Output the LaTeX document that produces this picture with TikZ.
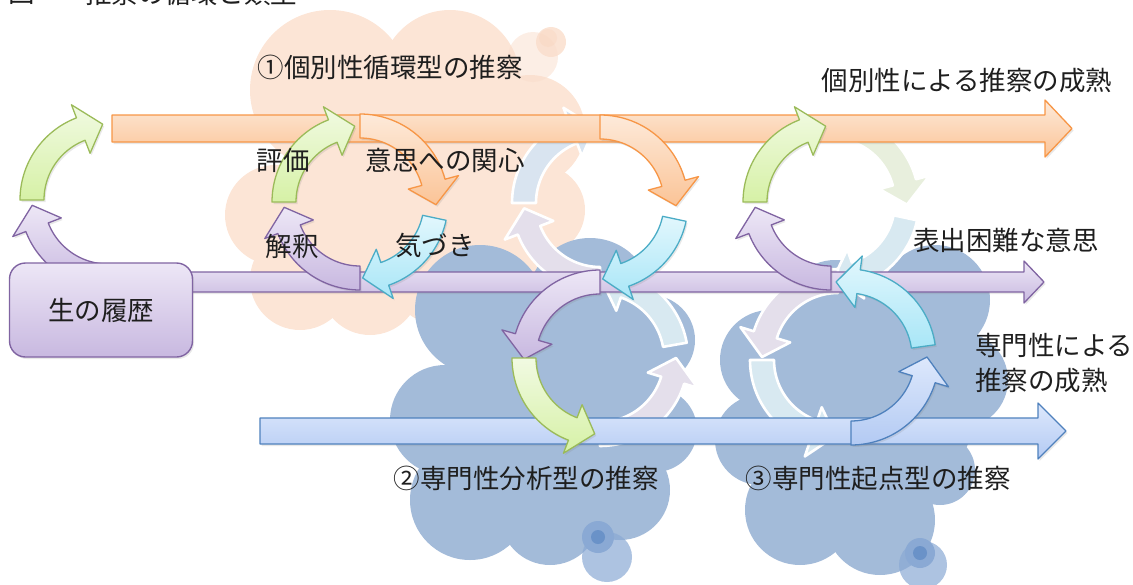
\documentclass[tikz,border=0pt]{standalone}
\usepackage{fontspec}
\setmainfont{Noto Sans CJK JP}
\usetikzlibrary{shadows}
\definecolor{peach}{HTML}{FCE5D6}
\definecolor{peachB}{HTML}{FADDCB}
\definecolor{peachC}{HTML}{F9D5BF}
\definecolor{cloudblue}{HTML}{A3BBD9}
\definecolor{bubA}{HTML}{8AA9D4}
\definecolor{bubB}{HTML}{6A92C8}
\definecolor{orgB}{HTML}{F79646}
\definecolor{orgL}{HTML}{FDEADA}
\definecolor{orgD}{HTML}{FBC497}
\definecolor{grnB}{HTML}{9BBB59}
\definecolor{grnL}{HTML}{F1FAE2}
\definecolor{grnD}{HTML}{D6F1A6}
\definecolor{cyaB}{HTML}{4BACC6}
\definecolor{cyaL}{HTML}{E2F7FD}
\definecolor{cyaD}{HTML}{A8E6F7}
\definecolor{purB}{HTML}{8064A2}
\definecolor{purL}{HTML}{EDE7F6}
\definecolor{purD}{HTML}{C8B8E0}
\definecolor{bluB}{HTML}{4F81BD}
\definecolor{bluL}{HTML}{DDE8FC}
\definecolor{bluD}{HTML}{B3CAF3}
\definecolor{fdBlue}{HTML}{D9E4F0}
\definecolor{fdLav}{HTML}{E4DFEB}
\definecolor{fdGreen}{HTML}{E8EFDD}
\definecolor{fdCyan}{HTML}{D8E9F1}
\definecolor{txt}{HTML}{1E1E1E}
\newcommand{\arcarr}[5]{%
  \pgfmathsetmacro{\hbang}{#4-17*sign(#4-#3)}%
  \path[#5] plot[domain=#3:\hbang, samples=30, variable=\t] ({#1+88*cos(\t)},{#2+88*sin(\t)})
   -- ({#1+102*cos(\hbang)},{#2+102*sin(\hbang)})
   -- ({#1+76*cos(#4)},{#2+76*sin(#4)})
   -- ({#1+50*cos(\hbang)},{#2+50*sin(\hbang)})
   -- plot[domain=\hbang:#3, samples=30, variable=\t] ({#1+64*cos(\t)},{#2+64*sin(\t)})
   -- cycle;}
\begin{document}
\begin{tikzpicture}[x=1pt,y=-1pt,
  lbl/.style={font=\fontsize{26.5}{30}\selectfont, text=txt, inner sep=0pt},
  shd/.style={drop shadow={opacity=0.18, shadow xshift=1.5pt, shadow yshift=-2pt}},
  orgarr/.style={shd, draw=orgB, line width=1.3pt, line join=round, top color=orgL, bottom color=orgD},
  grnarr/.style={shd, draw=grnB, line width=1.3pt, line join=round, top color=grnL, bottom color=grnD},
  cyaarr/.style={shd, draw=cyaB, line width=1.3pt, line join=round, top color=cyaL, bottom color=cyaD},
  purarr/.style={shd, draw=purB, line width=1.3pt, line join=round, top color=purL, bottom color=purD},
  bluarr/.style={shd, draw=bluB, line width=1.3pt, line join=round, top color=bluL, bottom color=bluD},
  faded/.style={fill=#1, draw=white, line width=2.6pt, line join=round},
  lifebox/.style={shd, draw=purB, line width=1.4pt, rounded corners=16pt, top color=purL, bottom color=purD,
     minimum width=183pt, minimum height=94pt, font=\fontsize{26.5}{30}\selectfont, text=txt}
]
\useasboundingbox (0,0) rectangle (1133,584);
% ---------- peach cloud ----------
\begin{scope}[fill=peach]
\fill (330,90) circle[radius=80pt];
\fill (450,80) circle[radius=70pt];
\fill (530,130) circle[radius=55pt];
\fill (540,210) circle[radius=45pt];
\fill (275,215) circle[radius=50pt];
\fill (300,280) circle[radius=50pt];
\fill (370,285) circle[radius=50pt];
\fill (440,275) circle[radius=50pt];
\fill (500,255) circle[radius=45pt];
\fill (410,190) circle[radius=110pt];
\end{scope}
\fill[peachB,opacity=0.5] (533,57) circle[radius=25pt];
\fill[peachB,opacity=0.8] (551,42) circle[radius=15pt];
\fill[peachC,opacity=0.4] (548,38) circle[radius=9pt];
% ---------- blue cloud A ----------
\begin{scope}[fill=cloudblue]
\fill (480,310) circle[radius=65pt];
\fill (590,300) circle[radius=62pt];
\fill (650,340) circle[radius=45pt];
\fill (655,430) circle[radius=42pt];
\fill (445,420) circle[radius=55pt];
\fill (470,500) circle[radius=60pt];
\fill (550,515) circle[radius=50pt];
\fill (620,490) circle[radius=50pt];
\fill (555,405) circle[radius=115pt];
\end{scope}
\fill[bubA,opacity=0.7] (607,557) circle[radius=25pt];
\fill[bubA] (598,537) circle[radius=16pt];
\fill[bubB] (598,537) circle[radius=7pt];
% ---------- blue cloud B ----------
\begin{scope}[fill=cloudblue]
\fill (835,310) circle[radius=50pt];
\fill (935,300) circle[radius=55pt];
\fill (960,380) circle[radius=48pt];
\fill (940,470) circle[radius=35pt];
\fill (770,360) circle[radius=50pt];
\fill (760,440) circle[radius=45pt];
\fill (800,510) circle[radius=55pt];
\fill (880,520) circle[radius=55pt];
\fill (865,400) circle[radius=112pt];
\end{scope}
\fill[bubA,opacity=0.7] (923,565) circle[radius=24pt];
\fill[bubA] (920,553) circle[radius=15pt];
\fill[bubB] (920,553) circle[radius=7pt];
% ---------- faded arrows ----------
\arcarr{600}{203}{180}{266}{faded=fdBlue}
\arcarr{600}{203}{90}{176}{faded=fdLav}
\arcarr{831}{202}{270}{362}{faded=fdGreen}
\arcarr{831}{202}{12}{88}{faded=fdCyan}
\arcarr{600}{358}{90}{0}{faded=fdLav}
\arcarr{600}{358}{350}{272}{faded=fdCyan}
\arcarr{838}{357}{270}{180}{faded=fdLav}
\arcarr{838}{360}{180}{92}{faded=fdCyan}
% ---------- horizontal bars ----------
\path[orgarr] (112,115) -- (1045,115) -- (1045,100) -- (1072,128.5) -- (1045,157) -- (1045,142) -- (112,142) -- cycle;
\path[purarr] (150,272) -- (1024,272) -- (1024,261) -- (1044,282) -- (1024,303) -- (1024,292) -- (150,292) -- cycle;
\path[bluarr] (260,418) -- (1038,418) -- (1038,403) -- (1066,431) -- (1038,459) -- (1038,444) -- (260,444) -- cycle;
% ---------- bright curved arrows ----------
% cycle 0
\arcarr{108}{200}{180}{266}{grnarr}
\arcarr{108}{200}{90}{176}{purarr}
% cycle 1
\arcarr{360}{202}{180}{266}{grnarr}
\arcarr{360}{202}{270}{362}{orgarr}
\arcarr{360}{202}{12}{88}{cyaarr}
\arcarr{360}{202}{90}{176}{purarr}
% cycle 2
\arcarr{600}{203}{270}{362}{orgarr}
\arcarr{600}{203}{12}{88}{cyaarr}
% cycle 3
\arcarr{831}{202}{180}{266}{grnarr}
\arcarr{831}{202}{90}{176}{purarr}
% cycle 4
\arcarr{600}{358}{270}{179}{purarr}
\arcarr{600}{358}{180}{94}{grnarr}
% cycle 5
\arcarr{851}{357}{90}{0}{bluarr}
\arcarr{848}{357}{352}{261}{cyaarr}
% ---------- box ----------
\node[lifebox] (life) at (101,310) {生の履歴};
% ---------- labels ----------
\node[lbl] (figno) at (22,-7) {図};
\node[lbl] (figtitle) at (191,-7) {推察の循環と類型};
\node[lbl] (t1) at (390,67) {①個別性循環型の推察};
\node[lbl] (mat1) at (967,80) {個別性による推察の成熟};
\node[lbl] (hyouka) at (283,160) {評価};
\node[lbl] (kanshin) at (445,160) {意思への関心};
\node[lbl] (kaishaku) at (292,246) {解釈};
\node[lbl] (kizuki) at (435,246) {気づき};
\node[lbl] (hyoshutsu) at (1006,240) {表出困難な意思};
\node[lbl, anchor=west] (mat2a) at (975,345) {専門性による};
\node[lbl, anchor=west] (mat2b) at (975,380) {推察の成熟};
\node[lbl] (t2) at (526,478) {②専門性分析型の推察};
\node[lbl] (t3) at (878,478) {③専門性起点型の推察};
\end{tikzpicture}
\end{document}
